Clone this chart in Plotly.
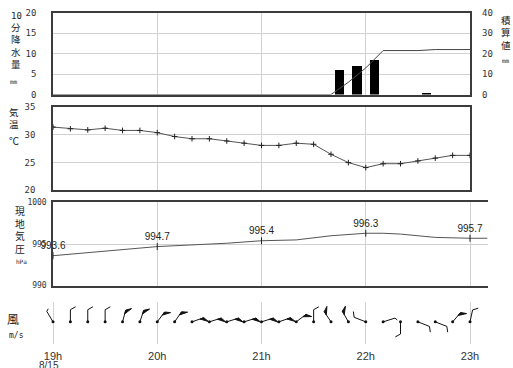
import math
import plotly.graph_objects as go

W, H = 513, 368

# 10-minute observation times, 19:00 - 23:00 on 8/15
times = [f"{h}:{m:02d}" for h in range(19, 24) for m in range(0, 60, 10)][:25]

# 10-minute precipitation (mm), by end of period
precip_times = ["21:50", "22:00", "22:10", "22:40"]
precip_mm = [6.0, 7.0, 8.5, 0.5]

# air temperature (deg C)
temp_c = [31.4, 31.1, 30.9, 31.2, 30.8, 30.8, 30.4, 29.7, 29.3, 29.3, 28.9, 28.5,
          28.1, 28.1, 28.5, 28.3, 26.5, 25.0, 24.1, 24.8, 24.8, 25.3, 25.8, 26.3, 26.3]

# station pressure (hPa)
pres_times = ["19:00", "20:00", "20:40", "21:00", "21:20", "21:40", "22:00",
              "22:10", "22:20", "22:40", "23:00", "23:10"]
pres_hpa = [993.6, 994.7, 995.1, 995.4, 995.5, 996.0, 996.3, 996.3, 996.2, 995.8, 995.7, 995.7]
pres_label_times = ["19:00", "20:00", "21:00", "22:00", "23:00"]
pres_label_hpa = [993.6, 994.7, 995.4, 996.3, 995.7]

# wind: direction it blows from (deg) and speed (m/s)
wind_dir = [330, 0, 0, 0, 15, 18, 36, 34, 70, 72, 72, 72, 72, 70, 52, 0,
            327, 331, 292, 72, 180, 112, 112, 40, 12]
wind_ms = [1, 2, 2, 2, 3, 3, 3, 3, 3, 3, 3, 3, 3, 3, 3, 2, 3, 3, 2, 1, 2, 2, 2, 3, 2]

hour_ticks = [19, 20, 21, 22, 23]
hour_text = ["19h", "20h", "21h", "22h", "23h"]


def hrs(t):
    h, m = t.split(":")
    return int(h) + int(m) / 60.0


t_hr = [hrs(t) for t in times]

# running rainfall total on the 10-minute grid
rain_by_time = dict(zip(precip_times, precip_mm))
cum = []
total = 0.0
for t in times:
    total += rain_by_time.get(t, 0.0)
    cum.append(total)

# bars centred in their 10-minute period
bar_x = [hrs(t) - 5 / 60.0 for t in precip_times]


def px(x):
    return x / W


def py(y):
    return 1 - y / H


X0, X1 = 53, 470
PX_PER_HR = (X1 - X0) / 4.0


def hour_at(xpix):
    return 19 + (xpix - X0) / PX_PER_HR


GRID = "#d2d2d2"
FRAME = "#3c3c3c"
TICKFONT = dict(family="DejaVu Sans Mono", size=9, color="#333")
CJK = "Noto Sans CJK JP"

fig = go.Figure()

# --- precipitation panel
fig.add_trace(go.Bar(x=bar_x, y=precip_mm, width=5.5 / 60.0, marker=dict(color="black", line=dict(width=0)),
                     xaxis="x", yaxis="y"))
fig.add_trace(go.Scatter(x=t_hr, y=cum, mode="lines", line=dict(color="#444", width=1),
                         xaxis="x", yaxis="y2"))

# --- temperature panel
fig.add_trace(go.Scatter(x=t_hr, y=temp_c, mode="lines+markers",
                         line=dict(color="#555", width=1),
                         marker=dict(symbol="cross-thin", size=4, line=dict(width=1, color="#222")),
                         xaxis="x2", yaxis="y3"))

# --- pressure panel
fig.add_trace(go.Scatter(x=[hrs(t) for t in pres_times], y=pres_hpa, mode="lines",
                         line=dict(color="#555", width=1), xaxis="x3", yaxis="y4"))
fig.add_trace(go.Scatter(x=[hrs(t) for t in pres_label_times], y=pres_label_hpa, mode="markers+text",
                         marker=dict(symbol="line-ns", size=5, line=dict(width=1, color="#222")),
                         text=[f"{v:.1f}" for v in pres_label_hpa], textposition="top center",
                         textfont=dict(family="Liberation Sans", size=10, color="#222"),
                         cliponaxis=False, xaxis="x3", yaxis="y4"))

# --- wind barbs (geometry in screen pixels, y axis scaled 1 unit = 1 px)
STAFF = 12.5
FEATHER = 6.0
lx, ly, fx_, fy_ = [], [], [], []
for t, d, s in zip(t_hr, wind_dir, wind_ms):
    th = math.radians(d)
    ux, uy = math.sin(th), math.cos(th)
    tx, ty = ux * STAFF, uy * STAFF
    a = th + math.radians(60)
    vx, vy = math.sin(a), math.cos(a)
    to_h = lambda dx: t + dx / PX_PER_HR
    lx += [t, to_h(tx), None]
    ly += [0, ty, None]
    if s >= 3:
        bx, by = tx - ux * 4, ty - uy * 4
        fx_ += [to_h(tx), to_h(tx + vx * FEATHER), to_h(bx), to_h(tx), None]
        fy_ += [ty, ty + vy * FEATHER, by, ty, None]
    else:
        flen = FEATHER if s >= 2 else FEATHER / 2
        lx += [to_h(tx), to_h(tx + vx * flen), None]
        ly += [ty, ty + vy * flen, None]

fig.add_trace(go.Scatter(x=lx, y=ly, mode="lines", line=dict(color="#111", width=1),
                         xaxis="x4", yaxis="y5"))
fig.add_trace(go.Scatter(x=fx_, y=fy_, mode="lines", fill="toself", fillcolor="#111",
                         line=dict(color="#111", width=1), xaxis="x4", yaxis="y5"))
fig.add_trace(go.Scatter(x=t_hr, y=[0] * len(t_hr), mode="markers",
                         marker=dict(color="#111", size=3), xaxis="x4", yaxis="y5", cliponaxis=False))


def xax(dom, rng, labels=False, line=True):
    return dict(domain=[px(dom[0]), px(dom[1])], range=rng, tickvals=hour_ticks, ticktext=hour_text,
                showticklabels=labels, showgrid=True, gridcolor=GRID, gridwidth=1, zeroline=False,
                showline=line, mirror=line, linecolor=FRAME, linewidth=1.5, ticks="",
                tickfont=dict(family="Liberation Sans", size=11, color="#333"), ticklabelstandoff=4)


def yax(top, bot, rng, dtick, anchor, standoff=13, mirror=True, font=TICKFONT):
    return dict(domain=[py(bot), py(top)], range=rng, dtick=dtick, anchor=anchor,
                showgrid=True, gridcolor=GRID, gridwidth=1, zeroline=False,
                showline=True, mirror=mirror, linecolor=FRAME, linewidth=1.5, ticks="",
                tickfont=font, ticklabelstandoff=standoff)


r_end = hour_at(488)

# wind strip is wider than the time span so barbs at the ends are not clipped
WX0, WX1 = 36, 487

fig.update_layout(
    width=W, height=H, autosize=False, showlegend=False,
    margin=dict(l=0, r=0, t=0, b=0),
    paper_bgcolor="white", plot_bgcolor="white",
    bargap=0,
    xaxis=dict(xax((X0, X1), [19, 23]), anchor="y"),
    yaxis=yax(8, 92, [0, 20], 5, "x", standoff=13),
    yaxis2=dict(range=[0, 40], dtick=10, overlaying="y", side="right", anchor="x",
                showgrid=False, zeroline=False, showline=False, ticks="",
                tickfont=TICKFONT, ticklabelstandoff=11),
    xaxis2=dict(xax((X0, X1), [19, 23]), anchor="y3"),
    yaxis3=yax(105, 190.5, [20, 35], 5, "x2", standoff=14),
    xaxis3=dict(xax((X0, 488), [19, r_end]), anchor="y4"),
    yaxis4=yax(203, 288.5, [990, 1000], 5, "x3", standoff=3, mirror=False,
               font=dict(family="DejaVu Sans Mono", size=8, color="#333")),
    xaxis4=dict(xax((WX0, WX1), [hour_at(WX0), hour_at(WX1)], labels=True, line=False), anchor="y5"),
    yaxis5=dict(domain=[py(348), py(305)], range=[-22.3, 20.7], anchor="x4",
                visible=False, showgrid=False, zeroline=False),
)

# panel titles, stacked vertically
labels = [
    ("10", 16, 11, 9, "DejaVu Sans Mono"),
    ("分<br>降<br>水<br>量", 16, 42, 9.5, CJK),
    ("mm", 14, 79, 6, "DejaVu Sans Mono"),
    ("積<br>算<br>値", 506, 28, 9.5, CJK),
    ("mm", 506, 57, 6, "DejaVu Sans Mono"),
    ("気<br>温", 14, 116, 9.5, CJK),
    ("℃", 14, 139, 10, CJK),
    ("現<br>地<br>気<br>圧", 20, 231, 9.8, CJK),
    ("hPa", 21, 264, 6, "DejaVu Sans Mono"),
    ("風", 13, 322, 12, CJK),
    ("m/s", 16, 340, 8, "DejaVu Sans Mono"),
]
for txt, x, y, size, fam in labels:
    fig.add_annotation(text=txt, x=px(x), y=py(y), xref="paper", yref="paper",
                       showarrow=False, xanchor="center", yanchor="middle",
                       font=dict(family=fam, size=size, color="#222"))

fig.add_annotation(text="8/15", x=px(49), y=py(363), xref="paper", yref="paper",
                   showarrow=False, xanchor="center", yanchor="top",
                   font=dict(family="Liberation Sans", size=10, color="#333"))

fig.write_html("out.html")
